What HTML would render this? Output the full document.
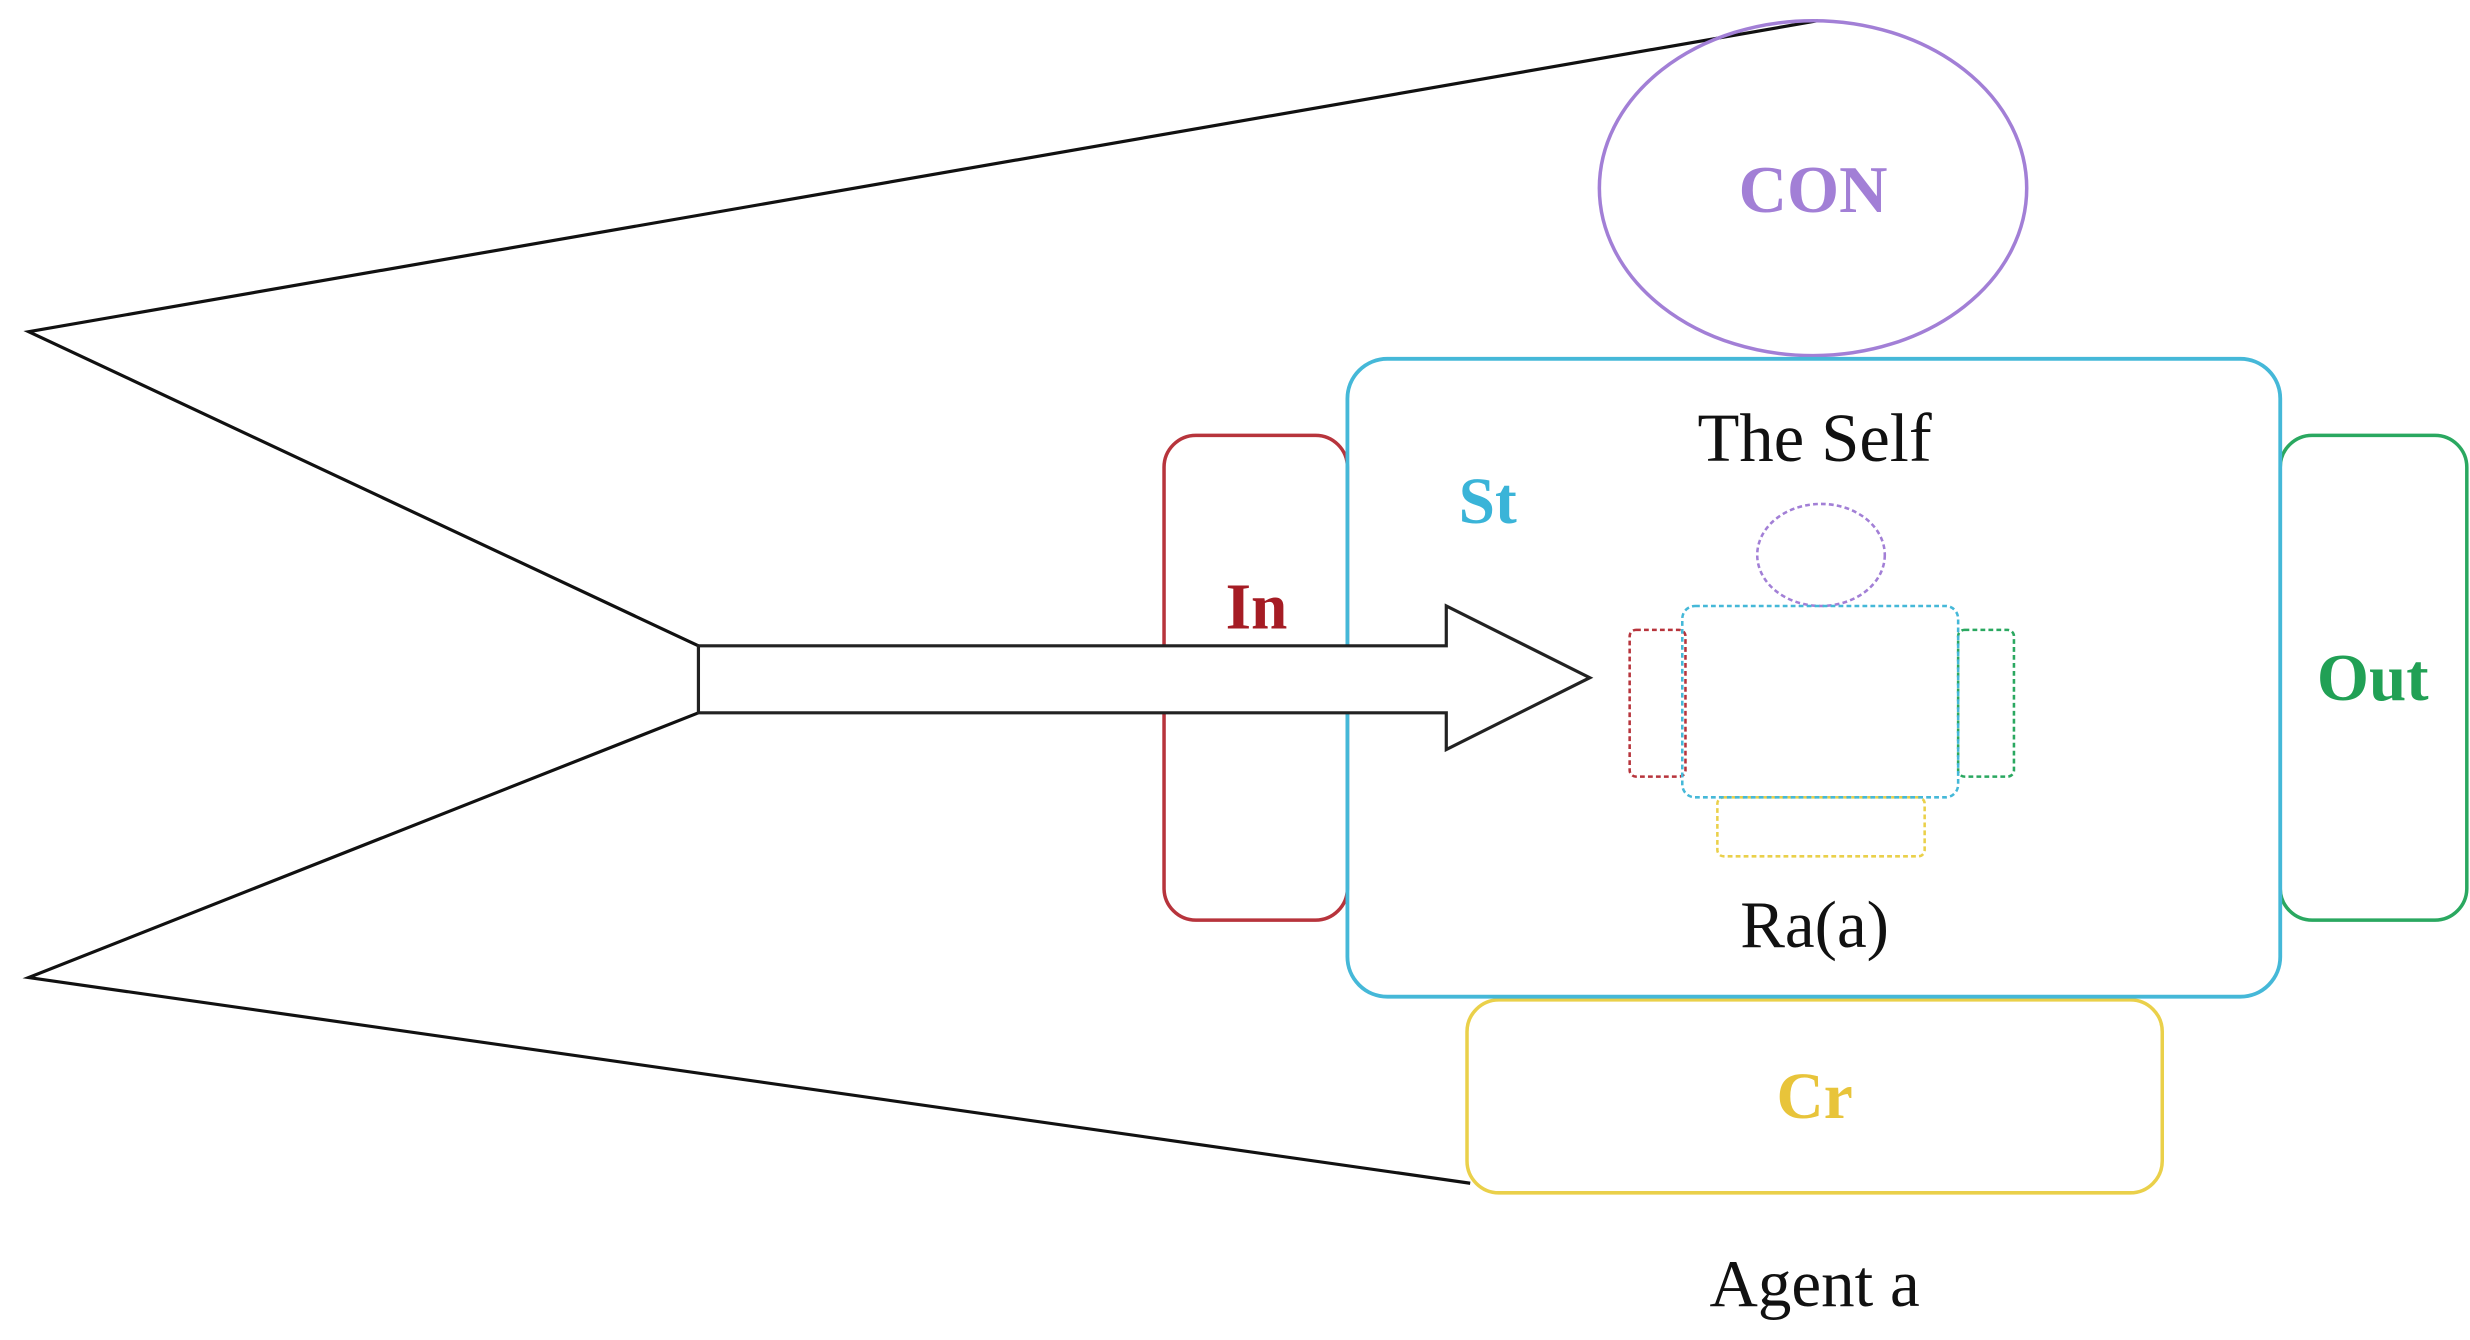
<!DOCTYPE html>
<html><head><style>html,body{margin:0;padding:0;background:#fff}svg{display:block}</style></head>
<body>
<svg width="2470" height="1340" viewBox="0 0 1549 840.3" preserveAspectRatio="none" xmlns="http://www.w3.org/2000/svg">
<g fill="none" stroke="#111" stroke-width="2">
<polyline points="1140,13 18,208 438,405"/>
<polyline points="438,447 18,613 922,742"/>
</g>
<ellipse cx="1137" cy="118" rx="134" ry="105" fill="none" stroke="#a27fd6" stroke-width="2.2"/>
<rect x="730" y="273" width="115" height="304" rx="20" fill="#fff" stroke="#b7343c" stroke-width="2.2"/>
<rect x="1430" y="273" width="117" height="304" rx="20" fill="#fff" stroke="#2aa860" stroke-width="2.2"/>
<rect x="920" y="627" width="436" height="121" rx="20" fill="#fff" stroke="#ead04a" stroke-width="2.2"/>
<rect x="845" y="225" width="585" height="400" rx="25" fill="none" stroke="#45b8d8" stroke-width="2.4"/>
<polygon points="438,405 907,405 907,380 997,425 907,470 907,447 438,447" fill="#fff" stroke="#222" stroke-width="2"/>
<g fill="none" stroke-width="1.6" stroke-dasharray="3,2">
<ellipse cx="1142" cy="348" rx="40" ry="32" stroke="#a27fd6"/>
<rect x="1022" y="395" width="35" height="92" rx="4" stroke="#b7343c"/>
<rect x="1228" y="395" width="35" height="92" rx="4" stroke="#2aa860"/>
<rect x="1077" y="500" width="130" height="37" rx="4" stroke="#ead04a"/>
<rect x="1055" y="380" width="173" height="120" rx="8" stroke="#45b8d8"/>
</g>
<g font-family="Liberation Serif, serif" text-anchor="middle">
<text x="1137" y="133" font-size="42" font-weight="bold" fill="#a27fd6">CON</text>
<text x="1138" y="289" font-size="43" fill="#111">The Self</text>
<text x="933" y="328" font-size="41" font-weight="bold" fill="#3ab4d8">St</text>
<text x="788" y="394" font-size="41" font-weight="bold" fill="#a51c24">In</text>
<text x="1488" y="439" font-size="42" font-weight="bold" fill="#21a055">Out</text>
<text x="1138" y="594" font-size="42" fill="#111">Ra(a)</text>
<text x="1138" y="701" font-size="41" font-weight="bold" fill="#e8c43a">Cr</text>
<text x="1138" y="819" font-size="42" fill="#111">Agent a</text>
</g>
</svg>
</body></html>
